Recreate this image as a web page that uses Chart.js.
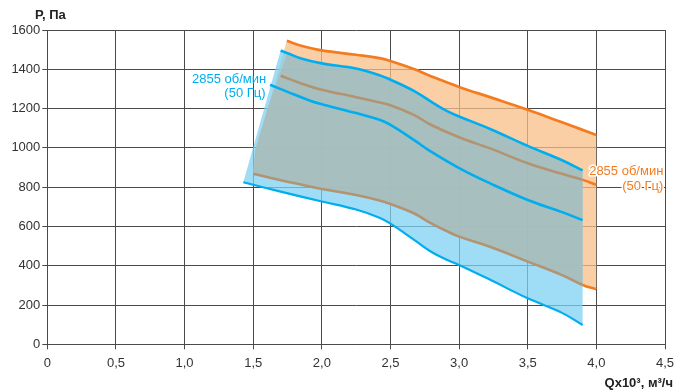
<!DOCTYPE html>
<html>
<head>
<meta charset="utf-8">
<script src="https://cdn.jsdelivr.net/npm/chart.js@4.4.1/dist/chart.umd.min.js"></script>
<style>
  html, body { margin: 0; padding: 0; background: #fff; }
  canvas { display: block; }
</style>
</head>
<body>
<canvas id="chart" width="689" height="392"></canvas>
<script>
// ── DATA ──────────────────────────────────────────────────────────────────
const xTickLabels = ['0', '0,5', '1,0', '1,5', '2,0', '2,5', '3,0', '3,5', '4,0', '4,5'];
const yTickLabels = ['0', '200', '400', '600', '800', '1000', '1200', '1400', '1600'];

// Q (x10³ м³/ч), P (Па)
const orangeTop  = [[1.745,1545],[1.85,1520],[2.0,1496],[2.25,1474],[2.42,1457],[2.5,1442],[2.67,1401],[2.79,1366],[3.0,1310],[3.23,1257],[3.5,1194],[3.75,1130],[4.0,1066]];
const blueTop    = [[1.70,1496],[1.75,1482],[1.85,1455],[2.0,1430],[2.25,1404],[2.42,1370],[2.5,1347],[2.67,1290],[2.79,1238],[2.91,1188],[3.0,1160],[3.23,1095],[3.5,1010],[3.75,937],[3.9,885]];
const brownUpper = [[1.70,1367],[1.85,1328],[2.0,1296],[2.25,1258],[2.42,1231],[2.5,1217],[2.67,1168],[2.79,1119],[3.0,1054],[3.23,996],[3.5,922],[3.75,868],[3.9,837],[4.0,812]];
const blueMid    = [[1.623,1321],[1.75,1285],[1.915,1240],[2.0,1222],[2.25,1177],[2.42,1143],[2.5,1117],[2.67,1041],[2.79,983],[3.0,897],[3.23,818],[3.5,735],[3.75,673],[3.9,632]];
const brownLower = [[1.5,868],[1.75,828],[2.0,791],[2.25,760],[2.42,732],[2.5,714],[2.67,667],[2.79,618],[2.91,576],[3.0,548],[3.23,495],[3.5,421],[3.75,352],[3.9,302],[4.0,280]];
const blueLower  = [[1.428,825],[1.7,777],[2.0,727],[2.25,686],[2.42,644],[2.5,614],[2.67,533],[2.79,474],[2.91,430],[3.0,404],[3.23,327],[3.5,234],[3.75,160],[3.9,98]];
const orangeEdge = [[1.5,868],[1.515,990],[1.62,1236],[1.745,1545]];

// ── STYLE ─────────────────────────────────────────────────────────────────
const ORANGE = '#f47c20', BLUE = '#00aeef', BROWN = '#b39472';
const GRID = '#4a4a4a';
const FONT = '"Liberation Sans", Arial, sans-serif';
const TENSION = 0.4;

// polygon from curve parts; ends doubled so corners stay sharp with tension
function poly(...parts) {
  const pts = [];
  parts.forEach(p => { pts.push(p[0], ...p, p[p.length - 1]); });
  return pts.map(([x, y]) => ({ x, y }));
}
const toXY = arr => arr.map(([x, y]) => ({ x, y }));
const rev = arr => arr.slice().reverse();

const orangeArea = poly(orangeTop, rev(brownLower), orangeEdge.slice(1));
const blueArea   = poly(blueTop, rev(blueLower));
const grayArea   = poly(blueTop.filter(p => p[0] >= 1.75), rev(brownLower.filter(p => p[0] <= 3.9)), orangeEdge.slice(1, 3));

function area(data, color, order) {
  return { data, backgroundColor: color, borderWidth: 0, pointRadius: 0, fill: 'shape', tension: TENSION, order };
}
function curve(arr, color, width) {
  const data = toXY(arr);
  return {
    data, borderColor: color, borderWidth: width, pointRadius: 0, fill: false, tension: TENSION, order: 0,
    borderCapStyle: 'butt',
    segment: { borderColor: ctx => (color === BROWN && data[ctx.p1DataIndex].x > 3.9 ? ORANGE : undefined) },
  };
}

// ── TEXT ──────────────────────────────────────────────────────────────────
const textPlugin = {
  id: 'texts',
  afterDatasetsDraw(chart) {
    const { ctx, scales: { x, y } } = chart;
    ctx.save();
    ctx.textBaseline = 'middle';
    // blue label
    ctx.font = '13px ' + FONT;
    ctx.fillStyle = BLUE;
    ctx.textAlign = 'right';
    ctx.fillText('2855 об/мин', x.getPixelForValue(1.595), y.getPixelForValue(1350));
    ctx.fillText('(50 Гц)', x.getPixelForValue(1.59), y.getPixelForValue(1279));
    // orange label with white halo
    ctx.strokeStyle = '#fff';
    ctx.lineWidth = 3;
    ctx.lineJoin = 'round';
    ctx.fillStyle = ORANGE;
    [['2855 об/мин', 879], ['(50 Гц)', 803]].forEach(([t, v]) => {
      ctx.strokeText(t, x.getPixelForValue(4.488), y.getPixelForValue(v));
      ctx.fillText(t, x.getPixelForValue(4.488), y.getPixelForValue(v));
    });
    // axis titles
    ctx.fillStyle = '#222';
    ctx.font = 'bold 13px ' + FONT;
    ctx.textAlign = 'left';
    ctx.fillText('P, Па', 35, 15);
    ctx.textAlign = 'right';
    ctx.fillText('Qx10³, м³/ч', 673, 383);
    ctx.restore();
  },
};

// ── CHART ─────────────────────────────────────────────────────────────────
new Chart(document.getElementById('chart'), {
  type: 'line',
  data: {
    datasets: [
      curve(orangeTop, ORANGE, 2.7),
      curve(blueTop, BLUE, 2.6),
      curve(brownUpper, BROWN, 2.6),
      curve(blueMid, BLUE, 2.6),
      curve(brownLower, BROWN, 2.6),
      curve(blueLower, BLUE, 2.2),
      area(grayArea, 'rgba(170,185,179,0.75)', 3),
      area(blueArea, 'rgba(127,208,242,0.75)', 4),
      area(orangeArea, 'rgba(250,191,135,0.75)', 5),
    ],
  },
  options: {
    responsive: false, animation: false, devicePixelRatio: 1,
    layout: { padding: { top: 30, right: 24, left: 0, bottom: 0 } },
    plugins: { legend: { display: false }, tooltip: { enabled: false } },
    scales: {
      x: {
        type: 'linear', min: 0, max: 4.5,
        afterFit: s => { s.height = 47.7; },
        grid: { color: GRID, lineWidth: 1, tickLength: 5, tickColor: GRID },
        border: { color: GRID, width: 1 },
        ticks: { stepSize: 0.5, autoSkip: false, maxRotation: 0, padding: 6, color: '#333', font: { family: FONT, size: 13 },
                 callback: (v, i) => xTickLabels[i] },
      },
      y: {
        min: 0, max: 1600,
        afterFit: s => { s.width = 47.3; },
        grid: { color: GRID, lineWidth: 1, tickLength: 5, tickColor: GRID },
        border: { color: GRID, width: 1 },
        ticks: { stepSize: 200, autoSkip: false, padding: 2, color: '#333', font: { family: FONT, size: 13 },
                 callback: (v, i) => yTickLabels[i] },
      },
    },
  },
  plugins: [textPlugin],
});
</script>
</body>
</html>
